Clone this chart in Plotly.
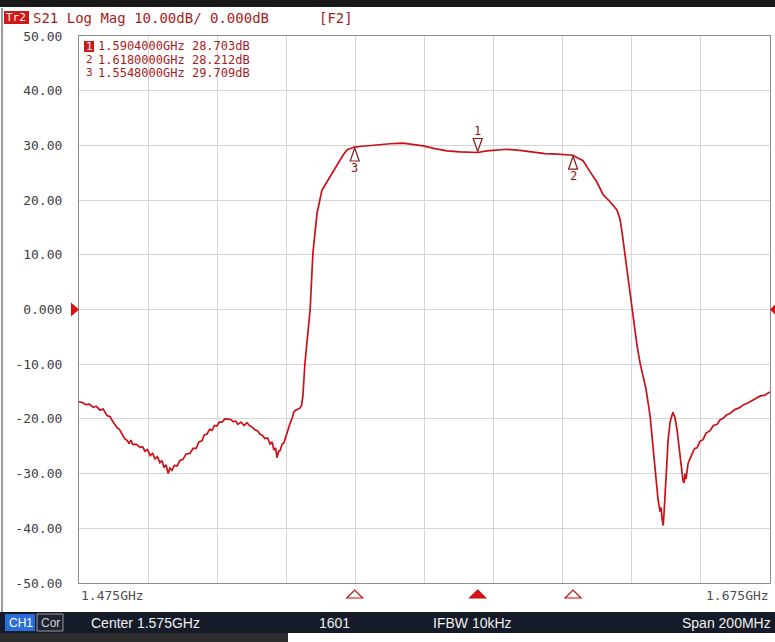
import plotly.graph_objects as go

# ---------------- data ----------------
# (frequency in MHz, S21 in dB)
s21_trace = [
    (1475.0, -16.9), (1476.0, -17.0), (1477.0, -17.4), (1478.0, -17.3), (1479.1, -17.9),
    (1480.0, -17.7), (1481.1, -18.4), (1482.0, -18.2), (1483.1, -19.4), (1484.0, -19.6),
    (1484.6, -20.3), (1485.3, -20.9), (1486.0, -21.6), (1486.7, -21.9), (1487.4, -22.7),
    (1488.2, -23.6), (1488.9, -23.9), (1489.5, -24.5), (1490.0, -23.9), (1490.6, -24.7),
    (1491.5, -24.6), (1492.7, -25.2), (1493.4, -25.1), (1494.1, -25.9), (1494.8, -25.6),
    (1495.6, -26.7), (1496.3, -26.3), (1497.0, -27.3), (1497.7, -26.9), (1498.4, -28.0),
    (1499.0, -27.6), (1499.6, -28.9), (1500.2, -28.4), (1500.8, -30.0), (1501.3, -29.0),
    (1501.9, -29.4), (1502.6, -28.5), (1503.4, -28.6), (1504.2, -27.6), (1505.1, -27.4),
    (1506.0, -26.4), (1507.1, -26.3), (1508.0, -25.4), (1508.9, -25.4), (1509.7, -24.2),
    (1510.6, -24.0), (1511.3, -22.9), (1512.0, -22.8), (1512.8, -21.9), (1513.5, -22.1),
    (1514.2, -21.2), (1514.9, -21.3), (1515.6, -20.6), (1516.4, -20.6), (1517.2, -20.0),
    (1518.1, -20.0), (1518.9, -20.1), (1519.6, -20.5), (1520.3, -20.4), (1521.0, -21.0),
    (1521.9, -20.6), (1522.8, -21.2), (1523.6, -20.7), (1524.5, -21.3), (1525.2, -21.5),
    (1525.9, -22.0), (1526.7, -22.2), (1527.4, -22.8), (1528.1, -23.0), (1528.8, -23.6),
    (1529.6, -23.5), (1530.3, -24.6), (1530.9, -24.2), (1531.4, -25.7), (1531.9, -25.3),
    (1532.3, -27.1), (1532.8, -25.9), (1533.2, -25.8), (1533.8, -24.6), (1534.3, -24.4),
    (1534.9, -23.1), (1535.5, -22.2), (1536.1, -20.8), (1536.7, -19.9), (1537.1, -18.9),
    (1537.5, -18.5), (1538.2, -18.3), (1539.0, -18.0), (1539.4, -17.6), (1539.8, -15.8),
    (1540.4, -9.8), (1541.3, -3.0), (1541.9, 0.0), (1542.7, 10.3), (1543.9, 17.6),
    (1545.3, 21.8), (1547.6, 24.2), (1550.0, 26.8), (1551.4, 28.2), (1552.6, 29.2),
    (1554.8, 29.7), (1556.3, 29.8), (1559.2, 30.0), (1562.1, 30.1), (1565.0, 30.3),
    (1568.8, 30.4), (1571.7, 30.2), (1574.6, 29.9), (1578.0, 29.4), (1581.5, 29.0),
    (1585.3, 28.8), (1588.2, 28.7), (1590.4, 28.7), (1593.1, 29.0), (1596.0, 29.2),
    (1598.9, 29.3), (1602.6, 29.1), (1606.4, 28.8), (1609.9, 28.5), (1613.4, 28.4),
    (1615.7, 28.3), (1618.0, 28.2), (1619.1, 27.8), (1620.9, 27.2), (1622.9, 25.2),
    (1624.9, 23.3), (1626.7, 21.0), (1628.7, 19.7), (1630.7, 18.2), (1631.6, 16.5),
    (1632.2, 14.0), (1633.0, 10.0), (1633.6, 7.2), (1634.5, 2.5), (1635.3, -1.4),
    (1636.5, -6.5), (1637.4, -9.8), (1638.2, -11.8), (1639.1, -14.5), (1640.3, -19.5),
    (1641.1, -25.1), (1642.0, -31.0), (1642.6, -34.8), (1643.2, -37.0), (1643.5, -36.2),
    (1643.8, -38.5), (1644.1, -39.5), (1644.4, -36.5), (1644.6, -33.6), (1645.2, -27.5),
    (1645.5, -23.9), (1646.1, -20.5), (1646.9, -18.8), (1647.5, -19.8), (1648.1, -22.0),
    (1648.7, -25.5), (1649.2, -28.8), (1649.8, -31.2), (1650.1, -31.7), (1650.4, -30.0),
    (1650.7, -31.0), (1651.3, -28.1), (1652.4, -26.5), (1653.2, -25.4), (1653.9, -25.3),
    (1654.7, -24.1), (1655.6, -23.8), (1656.5, -22.6), (1657.6, -22.2), (1658.6, -21.2),
    (1659.7, -21.0), (1660.5, -20.2), (1661.4, -19.9), (1662.4, -19.3), (1663.4, -19.0),
    (1664.8, -18.3), (1666.3, -17.9), (1667.4, -17.4), (1668.6, -17.1), (1670.0, -16.6),
    (1671.2, -16.3), (1672.2, -15.8), (1673.3, -15.7), (1674.2, -15.3), (1675.0, -15.1),
]
freq_mhz = [p[0] for p in s21_trace]
s21_db = [p[1] for p in s21_trace]

marker_ids = ["1", "2", "3"]
marker_freq_mhz = [1590.4, 1618.0, 1554.8]
marker_db = [28.703, 28.212, 29.709]
marker_text = ["1.5904000GHz 28.703dB", "1.6180000GHz 28.212dB", "1.5548000GHz 29.709dB"]

y_ticks = [50, 40, 30, 20, 10, 0, -10, -20, -30, -40, -50]
y_tick_text = ["50.00", "40.00", "30.00", "20.00", "10.00", "0.000",
               "-10.00", "-20.00", "-30.00", "-40.00", "-50.00"]
x_start_label = "1.475GHz"
x_stop_label = "1.675GHz"

# ---------------- layout helpers ----------------
W, H = 775, 642
ML, MR, MT, MB = 79, 5, 36, 59
PW, PH = W - ML - MR, H - MT - MB
RED = "#cc1018"
DRED = "#a81c1c"
MONO = "DejaVu Sans Mono"
SANS = "Liberation Sans"


def px(x):
    return (x - ML) / PW


def py(y):
    return (H - MB - y) / PH


fig = go.Figure()
fig.add_trace(go.Scatter(x=freq_mhz, y=s21_db, mode="lines",
                         line=dict(color=RED, width=1.7), hoverinfo="skip",
                         showlegend=False))

shapes = []
annotations = []

# top black bar and frame
shapes.append(dict(type="rect", xref="paper", yref="paper", x0=px(0), x1=px(W),
                   y0=py(7), y1=py(0), fillcolor="#1a1a1a", line_width=0, layer="below"))
shapes.append(dict(type="line", xref="paper", yref="paper", x0=px(2), x1=px(2),
                   y0=py(8), y1=py(612), line=dict(color="#7a7a7a", width=1.5)))
# status bar
shapes.append(dict(type="rect", xref="paper", yref="paper", x0=px(0), x1=px(W),
                   y0=py(633), y1=py(612), fillcolor="#161b29", line_width=0))
shapes.append(dict(type="rect", xref="paper", yref="paper", x0=px(0), x1=px(288),
                   y0=py(642), y1=py(633), fillcolor="#2c2c2c", line_width=0))
shapes.append(dict(type="rect", xref="paper", yref="paper", x0=px(5), x1=px(35),
                   y0=py(631), y1=py(614), fillcolor="#2a6fd8", line_width=0))
shapes.append(dict(type="rect", xref="paper", yref="paper", x0=px(37), x1=px(63),
                   y0=py(631), y1=py(614), fillcolor="#1e2433",
                   line=dict(color="#9a9a9a", width=1)))
# Tr2 box
shapes.append(dict(type="rect", xref="paper", yref="paper", x0=px(4), x1=px(29),
                   y0=py(24), y1=py(11), fillcolor="#d01818", line_width=0))
# marker 1 highlight box
shapes.append(dict(type="rect", xref="paper", yref="paper", x0=px(84), x1=px(94),
                   y0=py(52), y1=py(41), fillcolor="#d01818", line_width=0))

# reference level arrows at 0 dB
shapes.append(dict(type="path", xref="paper", yref="y", xsizemode="pixel", ysizemode="pixel",
                   xanchor=0, yanchor=0, path="M -8 7 L 0 0 L -8 -7 Z",
                   fillcolor="#e01010", line_width=0))
shapes.append(dict(type="path", xref="paper", yref="y", xsizemode="pixel", ysizemode="pixel",
                   xanchor=1, yanchor=0, path="M 7 7 L 0 0 L 7 -7 Z",
                   fillcolor="#e01010", line_width=0))

# markers on the trace and on the bottom axis
for mid, mf, md in zip(marker_ids, marker_freq_mhz, marker_db):
    active = mid == "1"
    if active:
        path = "M -4.5 14 L 4.5 14 L 0 1 Z"
        lab_shift = 21
    else:
        path = "M -4.5 -14 L 4.5 -14 L 0 -1 Z"
        lab_shift = -21
    shapes.append(dict(type="path", xref="x", yref="y", xsizemode="pixel", ysizemode="pixel",
                       xanchor=mf, yanchor=md, path=path, fillcolor="white",
                       line=dict(color="#8a1a1a", width=1.2), layer="above"))
    annotations.append(dict(x=mf, y=md, xref="x", yref="y", text=mid, showarrow=False,
                            yshift=lab_shift, font=dict(family=MONO, size=12, color="#8a1a1a")))
    shapes.append(dict(type="path", xref="x", yref="paper", xsizemode="pixel", ysizemode="pixel",
                       xanchor=mf, yanchor=0, path="M -8 -15 L 8 -15 L 0 -7 Z",
                       fillcolor="#e01010" if active else "white",
                       line=dict(color="#c01010", width=1.2)))


def ann(x, y, text, size, color, family=MONO, xanchor="left"):
    annotations.append(dict(x=px(x), y=py(y), xref="paper", yref="paper", text=text,
                            showarrow=False, xanchor=xanchor, yanchor="middle",
                            borderpad=0,
                            font=dict(family=family, size=size, color=color)))


# header
ann(5, 17.5, "Tr2", 11, "white")
ann(32, 17.5, "S21 Log Mag 10.00dB/ 0.000dB", 14, DRED)
ann(318, 17.5, "[F2]", 14, DRED)

# marker table
for i, (mid, txt) in enumerate(zip(marker_ids, marker_text)):
    yy = 46.5 + i * 13
    ann(85, yy, mid, 11, "white" if mid == "1" else DRED)
    ann(97, yy, txt, 12, DRED)

# x start/stop labels
ann(80, 595, x_start_label, 13, "#505050")
ann(770, 595, x_stop_label, 13, "#505050", xanchor="right")

# status bar texts
ann(8, 622.5, "CH1", 12, "white", SANS)
ann(40, 622.5, "Cor", 12, "#d0d0d0", SANS)
ann(90, 623, "Center 1.575GHz", 14, "#f0f0f0", SANS)
ann(318, 623, "1601", 14, "#f0f0f0", SANS)
ann(432, 623, "IFBW 10kHz", 14, "#f0f0f0", SANS)
ann(772, 623, "Span 200MHz", 14, "#f0f0f0", SANS, xanchor="right")

fig.update_layout(
    width=W, height=H,
    margin=dict(l=ML, r=MR, t=MT, b=MB, pad=0),
    paper_bgcolor="white", plot_bgcolor="white",
    shapes=shapes, annotations=annotations,
    showlegend=False,
    xaxis=dict(range=[1475, 1675], dtick=20, tick0=1475, showticklabels=False,
               showgrid=True, gridcolor="#d6d6d6", gridwidth=1, zeroline=False,
               showline=True, linecolor="#8c8c8c", linewidth=1.2, mirror=True, ticks=""),
    yaxis=dict(range=[-50, 50], tickvals=y_ticks, ticktext=y_tick_text,
               showgrid=True, gridcolor="#d6d6d6", gridwidth=1, zeroline=False,
               showline=True, linecolor="#8c8c8c", linewidth=1.2, mirror=True, ticks="",
               ticklabelstandoff=13,
               tickfont=dict(family=MONO, size=13, color="#404040")),
)

fig.write_html("out.html", config={"displayModeBar": False},
               post_script="document.body.style.margin='0';document.body.style.overflow='hidden';")
